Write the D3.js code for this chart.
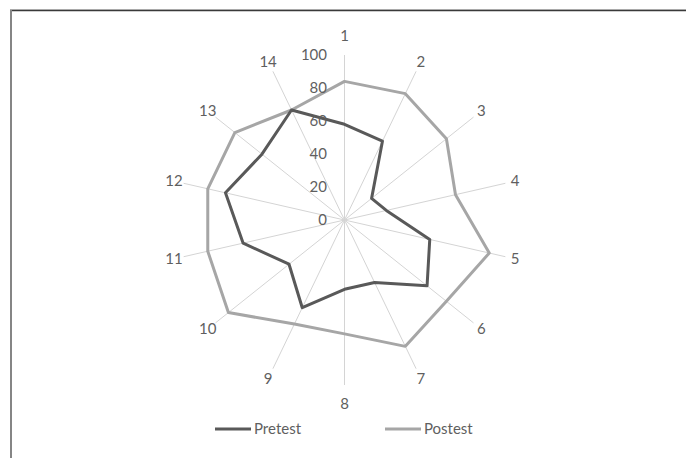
<!DOCTYPE html>
<html>
<head>
<meta charset="utf-8">
<script src="https://cdn.jsdelivr.net/npm/d3@7/dist/d3.min.js"></script>
<style>
  html, body { margin: 0; padding: 0; background: #fff; }
  svg { display: block; }
  text { font-family: Lato, "Open Sans", sans-serif; fill: #5f5f5f; }
</style>
</head>
<body>
<svg id="chart" width="686" height="458"></svg>
<script>
// Item numbers around the radar
const categories = ["1","2","3","4","5","6","7","8","9","10","11","12","13","14"];
// Scores per item
const pretest  = [58, 53, 21, 26, 53, 64, 42, 42, 59, 43, 63, 74, 64, 74];
const postest  = [84, 85, 79, 69, 90, 79, 85, 69, 70, 90, 85, 85, 85, 74];
// Radial tick values
const ticks = [0, 20, 40, 60, 80, 100];

const series = [
  { name: "Pretest", values: pretest, color: "#595959" },
  { name: "Postest", values: postest, color: "#a6a6a6" }
];

const svg = d3.select("#chart");
const W = 686, H = 458;
const cx = 344.5, cy = 220;

// Outer frame
svg.append("line").attr("x1", 10).attr("x2", W).attr("y1", 9.5).attr("y2", 9.5)
  .attr("stroke", "#cfcfcf").attr("stroke-width", 1);
svg.append("line").attr("x1", 10).attr("x2", W).attr("y1", 10.5).attr("y2", 10.5)
  .attr("stroke", "#3a3a3a").attr("stroke-width", 1.5);
svg.append("line").attr("x1", 11).attr("x2", 11).attr("y1", 10).attr("y2", H)
  .attr("stroke", "#858585").attr("stroke-width", 2);

const r = d3.scaleLinear().domain([0, 100]).range([0, 165]);
const angle = d3.scalePoint().domain(categories).range([0, 2 * Math.PI * (categories.length - 1) / categories.length]);

const g = svg.append("g").attr("transform", `translate(${cx},${cy})`);

// Spokes
g.selectAll("line.spoke").data(categories).join("line")
  .attr("class", "spoke")
  .attr("x1", 0).attr("y1", 0)
  .attr("x2", d => r(100) * Math.sin(angle(d)))
  .attr("y2", d => -r(100) * Math.cos(angle(d)))
  .attr("stroke", "#d4d4d4").attr("stroke-width", 1);

// Series polygons
const radial = d3.lineRadial()
  .angle((v, i) => angle(categories[i]))
  .radius(v => r(v))
  .curve(d3.curveLinearClosed);

g.selectAll("path.series").data(series.slice().reverse()).join("path")
  .attr("class", "series")
  .attr("d", s => radial(s.values))
  .attr("fill", "none")
  .attr("stroke", s => s.color)
  .attr("stroke-width", 3)
  .attr("stroke-linejoin", "round");

// Radial tick labels along the first spoke
g.selectAll("text.tick").data(ticks).join("text")
  .attr("class", "tick")
  .attr("x", -17.5)
  .attr("y", t => -r(t))
  .attr("dy", "0.35em")
  .attr("text-anchor", "end")
  .attr("font-size", 15)
  .text(t => t);

// Category labels
const labelR = a => 175 + 9 * Math.pow(Math.abs(Math.cos(a)), 20);
g.selectAll("text.cat").data(categories).join("text")
  .attr("class", "cat")
  .attr("x", d => labelR(angle(d)) * Math.sin(angle(d)))
  .attr("y", d => -labelR(angle(d)) * Math.cos(angle(d)))
  .attr("dy", "0.35em")
  .attr("text-anchor", "middle")
  .attr("font-size", 15)
  .text(d => d);

// Legend
const legendX = [215, 385];
const legend = svg.selectAll("g.legend").data(series).join("g")
  .attr("class", "legend")
  .attr("transform", (s, i) => `translate(${legendX[i]},429)`);
legend.append("line")
  .attr("x1", 0).attr("x2", 36).attr("y1", 0).attr("y2", 0)
  .attr("stroke", s => s.color).attr("stroke-width", 3);
legend.append("text")
  .attr("x", 39).attr("y", 0).attr("dy", "0.35em")
  .attr("font-size", 15)
  .text(s => s.name);
</script>
</body>
</html>
